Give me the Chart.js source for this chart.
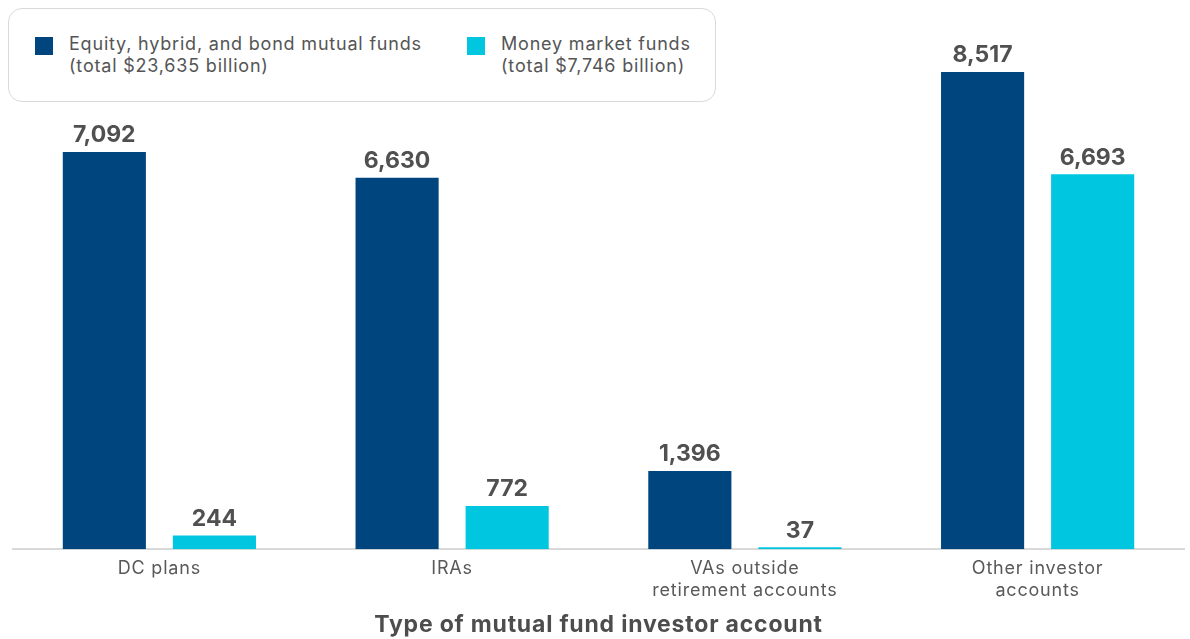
<!DOCTYPE html>
<html>
<head>
<meta charset="utf-8">
<script src="https://cdn.jsdelivr.net/npm/chart.js@4"></script>
<style>
  html, body { margin: 0; padding: 0; background: #fff; }
  #wrap { position: relative; width: 1190px; height: 639px; }
  #legendBox {
    position: absolute; left: 8px; top: 8px; width: 706px; height: 92px;
    border: 1px solid #d9d9d9; border-radius: 14px; background: #fff;
    font-family: Inter, "Noto Sans", sans-serif; font-size: 18px; letter-spacing: 0.8px;
    color: #555; line-height: 22px;
  }
  .item { position: absolute; top: 24px; }
  .swatch { position: absolute; top: 4px; width: 18px; height: 18px; }
  .txt { position: absolute; left: 34px; top: 0; white-space: nowrap; }
</style>
</head>
<body>
<div id="wrap">
  <canvas id="chart" width="1190" height="639"></canvas>
  <div id="legendBox"></div>
</div>
<script>
// Data
const categories = ['DC plans', 'IRAs', ['VAs outside', 'retirement accounts'], ['Other investor', 'accounts']];
const longTermFunds = [7092, 6630, 1396, 8517];
const moneyMarket = [244, 772, 37, 6693];
const seriesNames = [
    ['Equity, hybrid, and bond mutual funds', '(total $23,635 billion)'],
    ['Money market funds', '(total $7,746 billion)']
];
const axisTitle = 'Type of mutual fund investor account';

const darkBlue = '#00457e';
const cyan = '#00c6df';

// Legend in a rounded box, built from the series names
const legendBox = document.getElementById('legendBox');
const legendX = [26, 458];
[darkBlue, cyan].forEach((color, i) => {
    const item = document.createElement('div');
    item.className = 'item';
    item.style.left = legendX[i] + 'px';
    item.innerHTML = '<div class="swatch" style="background:' + color + '"></div>' +
        '<div class="txt">' + seriesNames[i].join('<br>') + '</div>';
    legendBox.appendChild(item);
});

// Wider text spacing for axis labels (the original font runs wide)
const spacing = {
    id: 'spacing',
    beforeLayout(chart) { chart.ctx.letterSpacing = '0.8px'; },
    beforeDraw(chart) { chart.ctx.letterSpacing = '0.8px'; }
};

// Value labels above each bar
const valueLabels = {
    id: 'valueLabels',
    afterDatasetsDraw(chart) {
        const ctx = chart.ctx;
        ctx.save();
        ctx.letterSpacing = '0px';
        ctx.font = 'bold 23px Inter, "Noto Sans", sans-serif';
        ctx.fillStyle = '#505050';
        ctx.textAlign = 'center';
        ctx.textBaseline = 'bottom';
        chart.data.datasets.forEach((ds, i) => {
            chart.getDatasetMeta(i).data.forEach((bar, j) => {
                ctx.fillText(ds.data[j].toLocaleString('en-US'), bar.x, bar.y - 5);
            });
        });
        ctx.restore();
    }
};

new Chart(document.getElementById('chart').getContext('2d'), {
    type: 'bar',
    data: {
        labels: categories,
        datasets: [{
            label: seriesNames[0].join(' '),
            data: longTermFunds,
            backgroundColor: darkBlue,
            categoryPercentage: 0.752,
            barPercentage: 0.755
        }, {
            label: seriesNames[1].join(' '),
            data: moneyMarket,
            backgroundColor: cyan,
            categoryPercentage: 0.752,
            barPercentage: 0.755
        }]
    },
    options: {
        responsive: false,
        animation: false,
        layout: { padding: { top: 45, left: 13, right: 6, bottom: 0 } },
        plugins: {
            legend: { display: false },
            tooltip: { enabled: false }
        },
        scales: {
            y: {
                display: false,
                min: 0,
                max: 9000
            },
            x: {
                grid: { display: false, drawTicks: false },
                border: { color: '#d9d9d9', width: 2 },
                ticks: {
                    color: '#595959',
                    padding: 9,
                    font: { family: 'Inter, "Noto Sans", sans-serif', size: 18, lineHeight: 1.2 }
                },
                title: {
                    display: true,
                    text: axisTitle,
                    color: '#4d4d4d',
                    padding: { top: 1, bottom: 0 },
                    font: { family: 'Inter, "Noto Sans", sans-serif', size: 23, weight: 'bold' }
                }
            }
        }
    },
    plugins: [spacing, valueLabels]
});
</script>
</body>
</html>
